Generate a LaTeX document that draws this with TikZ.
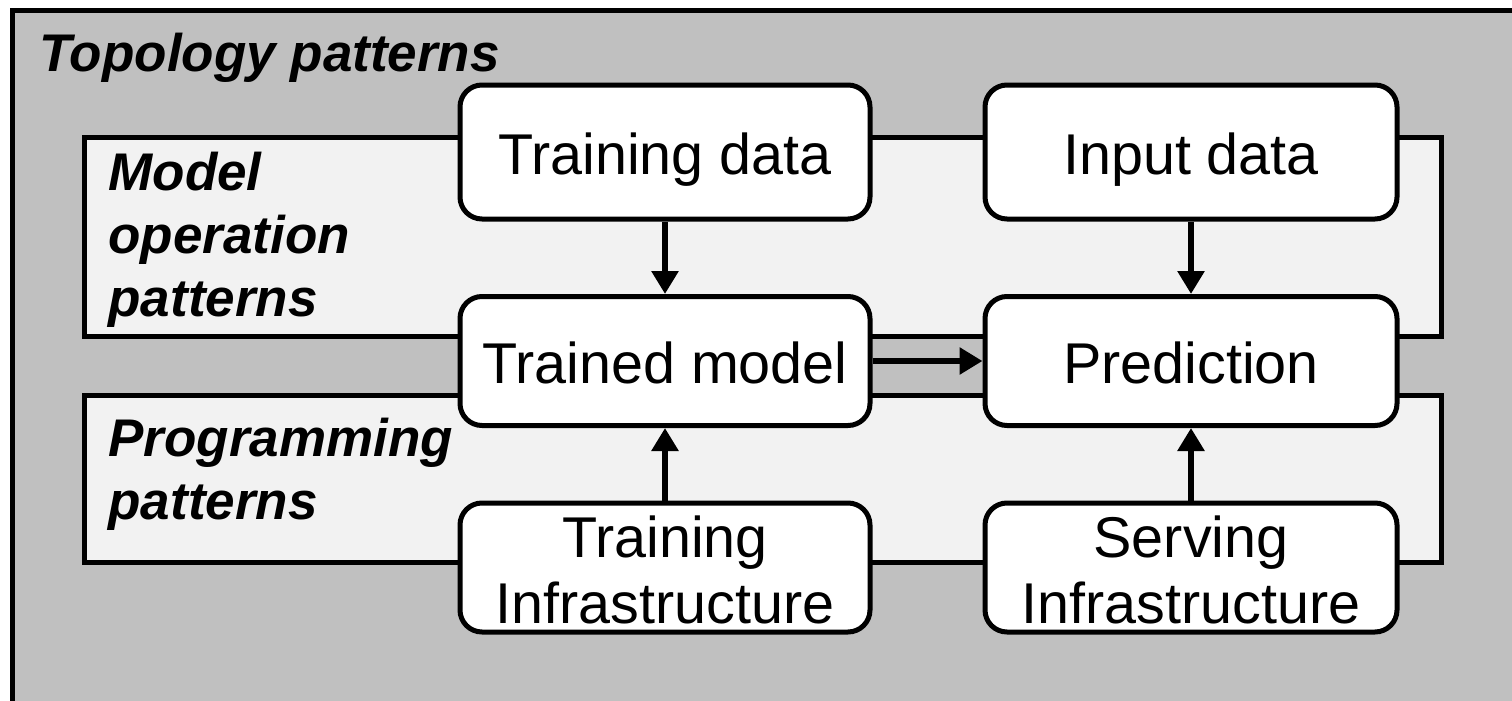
\documentclass[tikz,border=0pt]{standalone}
\usepackage{fontspec}
\setmainfont{Liberation Sans}
\usetikzlibrary{arrows.meta}
\definecolor{outergray}{HTML}{C0C0C0}
\definecolor{bandgray}{HTML}{F2F2F2}

\begin{document}
\begin{tikzpicture}[x=1pt, y=-1pt, line width=5pt,
  stage/.style={draw, fill=white, rounded corners=22pt, inner sep=0pt,
    align=center, font=\fontsize{57.5}{66}\selectfont,
    text height=45pt, text depth=0pt},
  twoline/.style={text height=111pt},
  band/.style={draw, fill=bandgray},
  grouplabel/.style={anchor=base west, align=left, inner sep=0pt,
    font=\fontsize{53}{63}\selectfont\bfseries\itshape},
  flow/.style={-{Triangle[width=26pt,length=23pt]}, line width=6pt}
]
\useasboundingbox (0,0) rectangle (1512,701);
\clip (0,0) rectangle (1512,701);

% outer region, running past the right and bottom edges
\draw[fill=outergray] (12.5,10.5) rectangle (1540,730);
\node[grouplabel] (topology) at (37,71) {Topology patterns};

% horizontal bands
\draw[band] (84,137) rectangle (1441,336);
\draw[band] (84,395) rectangle (1441,562);
\node[grouplabel] (modelops) at (106,316) {Model\\operation\\patterns};
\node[grouplabel] (programming) at (106,519) {Programming\\patterns};

% stages
\node[stage, minimum width=410pt, minimum height=134pt] (tdata)  at (665,152)   {Training data};
\node[stage, minimum width=412pt, minimum height=134pt] (idata)  at (1191,152)  {Input data};
\node[stage, minimum width=410pt, minimum height=129pt] (model)  at (665,361)   {Trained model};
\node[stage, minimum width=412pt, minimum height=129pt] (pred)   at (1191,361)  {Prediction};
\node[stage, twoline, minimum width=410pt, minimum height=129pt] (tinfra) at (665,567.5) {Training\\Infrastructure};
\node[stage, twoline, minimum width=412pt, minimum height=129pt] (sinfra) at (1191,567.5) {Serving\\Infrastructure};

% connectors
\draw[flow] (tdata.south) -- (model.north);
\draw[flow] (idata.south) -- (pred.north);
\draw[flow] (model.east) -- (pred.west);
\draw[flow] (tinfra.north) -- (model.south);
\draw[flow] (sinfra.north) -- (pred.south);
\end{tikzpicture}
\end{document}
